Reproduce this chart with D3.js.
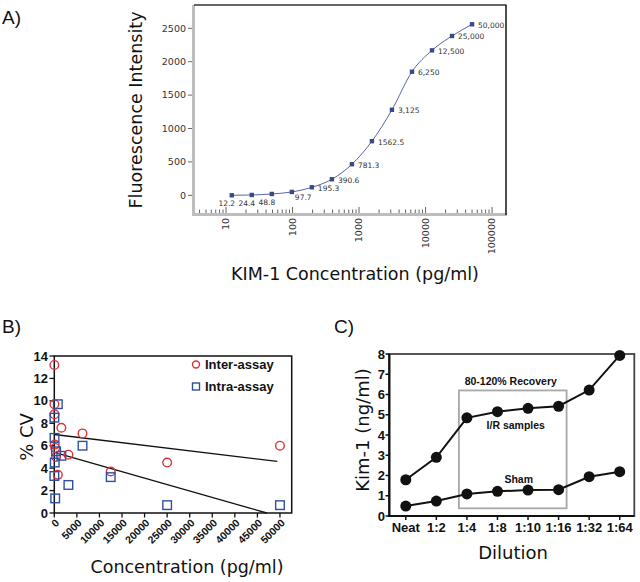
<!DOCTYPE html>
<html><head><meta charset="utf-8">
<script src="https://cdn.jsdelivr.net/npm/d3@7"></script>
<style>body{margin:0;background:#fff}svg{display:block}</style>
</head><body>
<svg id="c" width="640" height="582"></svg>
<script>
// ---------- Panel A data ----------
const concentrations = [12.2,24.4,48.8,97.7,195.3,390.6,781.3,1562.5,3125,6250,12500,25000,50000];
const concLabels = ["12.2","24.4","48.8","97.7","195.3","390.6","781.3","1562.5","3,125","6,250","12,500","25,000","50,000"];
const fluorescence = [0,5,20,50,120,240,465,810,1280,1850,2170,2385,2560];
const yTicksA = [0,500,1000,1500,2000,2500];
const xTicksA = [10,100,1000,10000,100000];

// ---------- Panel B data ----------
const cvConc = [12.2,24.4,48.8,97.7,195.3,390.6,781.3,1562.5,3125,6250,12500,25000,50000];
const interAssay = [13.2,9.7,8.8,6.1,5.8,5.0,3.4,7.6,5.2,7.1,3.7,4.5,6.0];
const intraAssay = [3.3,8.5,6.7,4.5,1.3,5.5,9.7,5.1,2.5,6.0,3.2,0.7,0.7];
const interTrend = [[0,7.0],[49400,4.6]];
const intraTrend = [[0,5.4],[47100,0]];
const xTicksB = [0,5000,10000,15000,20000,25000,30000,35000,40000,45000,50000];
const yTicksB = [0,2,4,6,8,10,12,14];

// ---------- Panel C data ----------
const dilutions = ["Neat","1:2","1:4","1:8","1:10","1:16","1:32","1:64"];
const irSamples = [1.79,2.9,4.85,5.15,5.32,5.42,6.22,7.93];
const sham = [0.49,0.74,1.09,1.22,1.28,1.30,1.94,2.19];
const yTicksC = [0,1,2,3,4,5,6,7,8];
const recoveryRange = ["1:4","1:16"];
const recoveryY = [0.38,6.2];

const svg = d3.select("#c");
const DV = "DejaVu Sans, Verdana, sans-serif";
const AR = "Liberation Sans, Arial, sans-serif";

// ================= Panel A =================
const gA = svg.append("g");
const xA = d3.scaleLog().domain([3.3,162000]).range([194,506]);
const yA = d3.scaleLinear().domain([-280,2849]).range([214,5]);

gA.append("rect").attr("x",192).attr("y",5).attr("width",3).attr("height",211).attr("fill","#bdbdbd");
gA.append("rect").attr("x",192).attr("y",213).attr("width",315).attr("height",3).attr("fill","#bdbdbd");
gA.append("line").attr("x1",194).attr("x2",506.5).attr("y1",5).attr("y2",5).attr("stroke","#333").attr("stroke-width",1.6);
gA.append("line").attr("x1",506).attr("x2",506).attr("y1",5).attr("y2",215).attr("stroke","#222").attr("stroke-width",1.6);

// y ticks
yTicksA.forEach(t=>{
  gA.append("line").attr("x1",188).attr("x2",192).attr("y1",yA(t)).attr("y2",yA(t)).attr("stroke","#666");
  gA.append("text").attr("x",186).attr("y",yA(t)).attr("dy","0.35em").attr("text-anchor","end")
    .attr("font-family",DV).attr("font-size",9.5).attr("fill","#333").text(t);
});
// x ticks (log)
const minorA = [];
for (let e=0;e<=5;e++) for (let m=1;m<=9;m++){ const v=m*Math.pow(10,e); if(v>=3.3&&v<=162000) minorA.push(v); }
minorA.forEach(v=>{
  const major = xTicksA.includes(v);
  gA.append("line").attr("x1",xA(v)).attr("x2",xA(v)).attr("y1",213).attr("y2",major?207:209.5)
    .attr("stroke","#555").attr("stroke-width",0.9);
});
xTicksA.forEach(t=>{
  gA.append("text").attr("transform",`translate(${xA(t)},218) rotate(-90)`).attr("dy","0.35em")
    .attr("text-anchor","end").attr("font-family",DV).attr("font-size",9.5).attr("fill","#333").text(t);
});
// curve
const ptsA = concentrations.map((c,i)=>[xA(c),yA(fluorescence[i])]);
gA.append("path").attr("d",d3.line().curve(d3.curveMonotoneX)(ptsA))
  .attr("fill","none").attr("stroke","#5866a6").attr("stroke-width",1);
gA.selectAll("rect.pt").data(ptsA).join("rect").attr("class","pt")
  .attr("x",d=>d[0]-2.2).attr("y",d=>d[1]-2.2).attr("width",4.4).attr("height",4.4).attr("fill","#3b4886");
ptsA.forEach((p,i)=>{
  const t = gA.append("text").attr("font-family",DV).attr("font-size",7.5).attr("fill","#333").text(concLabels[i]);
  if(i<3) t.attr("x",p[0]-5).attr("y",p[1]+11).attr("text-anchor","middle");
  else if(i===3) t.attr("x",p[0]+3).attr("y",p[1]+8);
  else t.attr("x",p[0]+6).attr("y",p[1]+3.5);
});
gA.append("text").attr("transform","translate(142,110) rotate(-90)").attr("text-anchor","middle")
  .attr("font-family",DV).attr("font-size",17.5).attr("fill","#111").text("Fluorescence Intensity");
gA.append("text").attr("x",355).attr("y",280).attr("text-anchor","middle")
  .attr("font-family",DV).attr("font-size",17.5).attr("fill","#111").text("KIM-1 Concentration (pg/ml)");
svg.append("text").attr("x",2).attr("y",24).attr("font-family",AR).attr("font-size",19).attr("fill","#111").text("A)");

// ================= Panel B =================
const gB = svg.append("g");
const xB = d3.scaleLinear().domain([0,52600]).range([54.3,291.7]);
const yB = d3.scaleLinear().domain([0,14]).range([513,356]);
gB.append("rect").attr("x",54.3).attr("y",356).attr("width",237.4).attr("height",157)
  .attr("fill","none").attr("stroke","#111").attr("stroke-width",1.5);
yTicksB.forEach(t=>{
  gB.append("line").attr("x1",49.5).attr("x2",54.3).attr("y1",yB(t)).attr("y2",yB(t)).attr("stroke","#111").attr("stroke-width",1.3);
  gB.append("text").attr("x",48).attr("y",yB(t)).attr("dy","0.35em").attr("text-anchor","end")
    .attr("font-family",AR).attr("font-weight","bold").attr("font-size",13).attr("fill","#111").text(t);
});
xTicksB.forEach(t=>{
  gB.append("line").attr("x1",xB(t)).attr("x2",xB(t)).attr("y1",513).attr("y2",517.5).attr("stroke","#111").attr("stroke-width",1.3);
  gB.append("text").attr("transform",`translate(${xB(t)+3},${521}) rotate(-45)`).attr("dy","0.35em").attr("text-anchor","end")
    .attr("font-family",AR).attr("font-weight","bold").attr("font-size",10.5).attr("fill","#111").text(t);
});
[interTrend,intraTrend].forEach(tr=>{
  gB.append("line").attr("x1",xB(tr[0][0])).attr("y1",yB(tr[0][1])).attr("x2",xB(tr[1][0])).attr("y2",yB(tr[1][1]))
    .attr("stroke","#111").attr("stroke-width",1.3);
});
gB.selectAll("circle.inter").data(cvConc).join("circle").attr("class","inter")
  .attr("cx",d=>xB(d)).attr("cy",(d,i)=>yB(interAssay[i])).attr("r",4.3)
  .attr("fill","none").attr("stroke","#d8343a").attr("stroke-width",1.4);
gB.selectAll("rect.intra").data(cvConc).join("rect").attr("class","intra")
  .attr("x",d=>xB(d)-4.3).attr("y",(d,i)=>yB(intraAssay[i])-4.3).attr("width",8.6).attr("height",8.6)
  .attr("fill","none").attr("stroke","#2f4f9f").attr("stroke-width",1.4);
// legend
gB.append("circle").attr("cx",196).attr("cy",364.5).attr("r",3.5).attr("fill","none").attr("stroke","#d8343a").attr("stroke-width",1.4);
gB.append("text").attr("x",205).attr("y",369).attr("font-family",AR).attr("font-weight","bold").attr("font-size",13).attr("fill","#111").text("Inter-assay");
gB.append("rect").attr("x",192.5).attr("y",383).attr("width",7).attr("height",7).attr("fill","none").attr("stroke","#2f4f9f").attr("stroke-width",1.4);
gB.append("text").attr("x",205).attr("y",391).attr("font-family",AR).attr("font-weight","bold").attr("font-size",13).attr("fill","#111").text("Intra-assay");
gB.append("text").attr("transform","translate(33,437) rotate(-90)").attr("text-anchor","middle")
  .attr("font-family",DV).attr("font-size",18).attr("fill","#111").text("% CV");
gB.append("text").attr("x",187).attr("y",573).attr("text-anchor","middle")
  .attr("font-family",DV).attr("font-size",17.5).attr("fill","#111").text("Concentration (pg/ml)");
svg.append("text").attr("x",2).attr("y",333).attr("font-family",AR).attr("font-size",19).attr("fill","#111").text("B)");

// ================= Panel C =================
const gC = svg.append("g");
const xC = d3.scalePoint().domain(dilutions).range([390.5,635]).padding(0.5);
const yC = d3.scaleLinear().domain([0,8]).range([516,354]);
gC.append("rect").attr("x",389.3).attr("y",354).attr("width",245).attr("height",162)
  .attr("fill","none").attr("stroke","#444").attr("stroke-width",1.8);
gC.append("line").attr("x1",389.3).attr("x2",389.3).attr("y1",354).attr("y2",517).attr("stroke","#111").attr("stroke-width",2.2);
gC.append("line").attr("x1",388).attr("x2",634.3).attr("y1",516).attr("y2",516).attr("stroke","#111").attr("stroke-width",2.2);
yTicksC.forEach(t=>{
  gC.append("line").attr("x1",385.5).attr("x2",389.3).attr("y1",yC(t)).attr("y2",yC(t)).attr("stroke","#111").attr("stroke-width",1.5);
  gC.append("text").attr("x",385).attr("y",yC(t)).attr("dy","0.36em").attr("text-anchor","end")
    .attr("font-family",AR).attr("font-weight","bold").attr("font-size",13).attr("fill","#111").text(t);
});
dilutions.forEach(d=>{
  gC.append("line").attr("x1",xC(d)).attr("x2",xC(d)).attr("y1",516).attr("y2",520).attr("stroke","#111").attr("stroke-width",1.5);
  gC.append("text").attr("x",xC(d)).attr("y",532).attr("text-anchor","middle")
    .attr("font-family",AR).attr("font-weight","bold").attr("font-size",13).attr("fill","#111").text(d);
});
// recovery box
const bx0 = xC(recoveryRange[0])-8, bx1 = xC(recoveryRange[1])+8;
gC.append("rect").attr("x",bx0).attr("y",yC(recoveryY[1])).attr("width",bx1-bx0).attr("height",yC(recoveryY[0])-yC(recoveryY[1]))
  .attr("fill","none").attr("stroke","#a8a8a8").attr("stroke-width",1.8);
gC.append("text").attr("x",(bx0+bx1)/2-2).attr("y",yC(recoveryY[1])-5).attr("text-anchor","middle")
  .attr("font-family",AR).attr("font-weight","bold").attr("font-size",10.5).attr("fill","#111").text("80-120% Recovery");
const lineC = d3.line().x((d,i)=>xC(dilutions[i])).y(d=>yC(d));
[irSamples,sham].forEach(s=>{
  gC.append("path").attr("d",lineC(s)).attr("fill","none").attr("stroke","#111").attr("stroke-width",2);
  gC.selectAll(null).data(s).join("circle").attr("cx",(d,i)=>xC(dilutions[i])).attr("cy",d=>yC(d)).attr("r",5.5).attr("fill","#111");
});
const midX = (xC("1:8")+xC("1:10"))/2;
gC.append("text").attr("x",midX+3).attr("y",yC(irSamples[3])+17).attr("text-anchor","middle")
  .attr("font-family",AR).attr("font-weight","bold").attr("font-size",10.5).attr("fill","#111").text("I/R samples");
gC.append("text").attr("x",midX+6).attr("y",yC(sham[4])-7).attr("text-anchor","middle")
  .attr("font-family",AR).attr("font-weight","bold").attr("font-size",10.5).attr("fill","#111").text("Sham");
gC.append("text").attr("transform","translate(369,430) rotate(-90)").attr("text-anchor","middle")
  .attr("font-family",DV).attr("font-size",18).attr("fill","#111").text("Kim-1 (ng/ml)");
gC.append("text").attr("x",513).attr("y",559).attr("text-anchor","middle")
  .attr("font-family",DV).attr("font-size",18).attr("fill","#111").text("Dilution");
svg.append("text").attr("x",334).attr("y",333).attr("font-family",AR).attr("font-size",19).attr("fill","#111").text("C)");
</script>
</body></html>
